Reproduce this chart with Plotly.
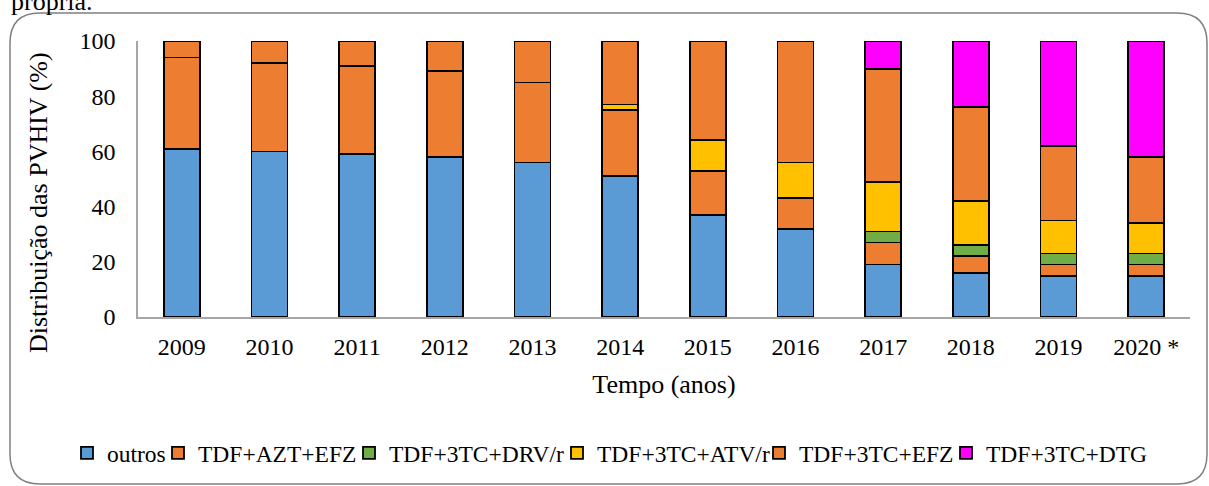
import plotly.graph_objects as go

anos = ["2009", "2010", "2011", "2012", "2013", "2014", "2015", "2016", "2017", "2018", "2019", "2020 *"]

outros        = [61, 60, 59, 58, 56, 51, 37, 32, 19, 16, 15, 15]
tdf_azt_efz   = [33, 32, 32, 31, 29, 24, 16, 11,  8,  6,  4,  4]
tdf_3tc_drv_r = [ 0,  0,  0,  0,  0,  0,  0,  0,  4,  4,  4,  4]
tdf_3tc_atv_r = [ 0,  0,  0,  0,  0,  2, 11, 13, 18, 16, 12, 11]
tdf_3tc_efz   = [ 6,  8,  9, 11, 15, 23, 36, 44, 41, 34, 27, 24]
tdf_3tc_dtg   = [ 0,  0,  0,  0,  0,  0,  0,  0, 10, 24, 38, 42]

series = [
    ("outros", outros, "#5B9BD5"),
    ("TDF+AZT+EFZ", tdf_azt_efz, "#ED7D31"),
    ("TDF+3TC+DRV/r", tdf_3tc_drv_r, "#70AD47"),
    ("TDF+3TC+ATV/r", tdf_3tc_atv_r, "#FFC000"),
    ("TDF+3TC+EFZ", tdf_3tc_efz, "#ED7D31"),
    ("TDF+3TC+DTG", tdf_3tc_dtg, "#FF00FF"),
]

# pixel x of each legend swatch (layout only)
legend_swatch_x = [81, 172, 363, 571, 773, 960]

W, H = 1209, 486
L, R, T, B = 138, 19, 41, 169
PW, PH = W - L - R, H - T - B

def px(x):
    return (x - L) / PW

def py(y):
    return (H - B - y) / PH

FONT = "Liberation Serif"

fig = go.Figure()
legend_layout = {}
for i, (name, vals, col) in enumerate(series):
    key = "legend" if i == 0 else f"legend{i+1}"
    fig.add_trace(go.Bar(
        x=anos, y=vals, name=name, legend=key,
        marker=dict(color=col, line=dict(color="#000000", width=1.8)),
    ))
    legend_layout[key] = dict(
        xref="container", yref="container",
        x=(legend_swatch_x[i] - 14) / W, xanchor="left",
        y=1 - 453 / H, yanchor="middle",
        font=dict(size=23.5, family=FONT, color="#000000"),
        bgcolor="rgba(0,0,0,0)", borderwidth=0, itemclick=False,
    )

# rounded frame
x0, y0, x1, y1, r = px(10), py(13), px(1207), py(484), 30
rx, ry = r / PW, r / PH
path = (f"M {x0+rx},{y0} L {x1-rx},{y0} Q {x1},{y0} {x1},{y0-ry} "
        f"L {x1},{y1+ry} Q {x1},{y1} {x1-rx},{y1} L {x0+rx},{y1} "
        f"Q {x0},{y1} {x0},{y1+ry} L {x0},{y0-ry} Q {x0},{y0} {x0+rx},{y0} Z")

fig.update_layout(
    width=W, height=H,
    margin=dict(l=L, r=R, t=T, b=B, pad=0, autoexpand=False),
    barmode="stack",
    bargap=0.59,
    plot_bgcolor="white",
    paper_bgcolor="white",
    font=dict(family=FONT, color="#000000", size=22),
    showlegend=True,
    xaxis=dict(
        showgrid=False, showline=True, linecolor="#A6A6A6", linewidth=1.5,
        ticks="", tickfont=dict(size=24, family=FONT), ticklabelstandoff=7,
        title=dict(text="Tempo (anos)", font=dict(size=26, family=FONT), standoff=16),
    ),
    yaxis=dict(
        range=[0, 100], dtick=20, showgrid=False, showline=True,
        linecolor="#A6A6A6", linewidth=1.5, ticks="",
        tickfont=dict(size=24, family=FONT), ticklabelstandoff=16,
    ),
    shapes=[dict(type="path", xref="paper", yref="paper", path=path,
                 line=dict(color="#808080", width=1.5), fillcolor="rgba(0,0,0,0)",
                 layer="below")],
    annotations=[
        dict(text="própria.", xref="paper", yref="paper",
             x=px(9), y=py(1), xanchor="left", yanchor="middle",
             showarrow=False, font=dict(size=26, family=FONT)),
        dict(text="Distribuição das PVHIV (%)", xref="paper", yref="paper",
             x=px(39), y=py(203), xanchor="center", yanchor="middle", textangle=-90,
             showarrow=False, font=dict(size=26, family=FONT)),
    ],
)
fig.update_layout(**legend_layout)

fig.write_html("out.html", config={"displayModeBar": False},
               post_script="document.body.style.margin='0px';")
